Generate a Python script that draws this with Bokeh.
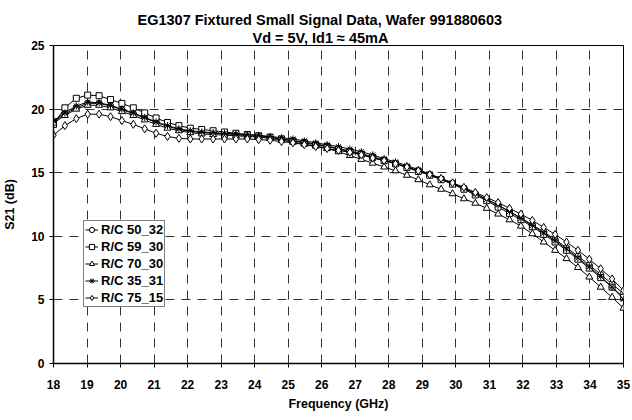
from bokeh.plotting import figure
from bokeh.models import Range1d, FixedTicker, Legend, LegendItem, Title
from bokeh.embed import file_html
from bokeh.resources import INLINE

title1 = "EG1307 Fixtured Small Signal Data, Wafer 991880603"
title2 = "Vd = 5V, Id1 \u2248 45mA"
x_label = "Frequency (GHz)"
y_label = "S21 (dB)"

freq = [18.00, 18.34, 18.68, 19.02, 19.36, 19.70, 20.04, 20.38, 20.72, 21.06,
        21.40, 21.74, 22.08, 22.42, 22.76, 23.10, 23.44, 23.78, 24.12, 24.46,
        24.80, 25.14, 25.48, 25.82, 26.16, 26.50, 26.84, 27.18, 27.52, 27.86,
        28.20, 28.54, 28.88, 29.22, 29.56, 29.90, 30.24, 30.58, 30.92, 31.26,
        31.60, 31.94, 32.28, 32.62, 32.96, 33.30, 33.64, 33.98, 34.32, 34.66, 35.00]

rc50_32 = [19.0, 19.6, 20.1, 20.45, 20.45, 20.25, 19.95, 19.65, 19.3, 18.95,
           18.65, 18.4, 18.25, 18.15, 18.1, 18.05, 18.0, 17.9, 17.85, 17.75,
           17.65, 17.5, 17.4, 17.25, 17.1, 16.9, 16.7, 16.5, 16.25, 16.0,
           15.75, 15.45, 15.15, 14.85, 14.5, 14.15, 13.75, 13.35, 12.9, 12.45,
           11.95, 11.45, 10.9, 10.35, 9.75, 9.1, 8.45, 7.75, 7.0, 6.25, 5.5]
rc59_30 = [18.8, 20.1, 20.85, 21.1, 21.05, 20.75, 20.45, 20.1, 19.7, 19.3,
           18.95, 18.7, 18.5, 18.4, 18.3, 18.2, 18.1, 18.0, 17.9, 17.8,
           17.65, 17.5, 17.35, 17.2, 17.05, 16.85, 16.65, 16.45, 16.2, 15.95,
           15.7, 15.4, 15.1, 14.8, 14.45, 14.1, 13.7, 13.25, 12.8, 12.3,
           11.8, 11.3, 10.75, 10.15, 9.55, 8.9, 8.2, 7.5, 6.75, 6.0, 5.2]
rc70_30 = [18.9, 19.5, 20.0, 20.3, 20.3, 20.1, 19.8, 19.5, 19.15, 18.8,
           18.5, 18.3, 18.15, 18.05, 18.0, 17.95, 17.9, 17.85, 17.8, 17.7,
           17.55, 17.4, 17.25, 17.1, 16.9, 16.65, 16.35, 16.05, 15.75, 15.45,
           15.15, 14.8, 14.45, 14.05, 13.7, 13.35, 12.95, 12.6, 12.2, 11.75,
           11.3, 10.8, 10.2, 9.55, 8.9, 8.25, 7.55, 6.8, 6.0, 5.2, 4.35]
rc35_31 = [19.1, 19.7, 20.25, 20.55, 20.5, 20.3, 20.0, 19.7, 19.35, 19.0,
           18.7, 18.45, 18.3, 18.2, 18.15, 18.1, 18.05, 18.0, 17.95, 17.85,
           17.75, 17.65, 17.5, 17.35, 17.2, 17.05, 16.85, 16.65, 16.4, 16.1,
           15.85, 15.55, 15.25, 14.9, 14.55, 14.2, 13.8, 13.35, 12.9, 12.45,
           11.95, 11.4, 10.85, 10.25, 9.65, 9.0, 8.3, 7.6, 6.85, 6.0, 5.05]
rc75_15 = [17.95, 18.7, 19.25, 19.6, 19.6, 19.4, 19.1, 18.8, 18.45, 18.1,
           17.85, 17.7, 17.65, 17.65, 17.65, 17.65, 17.65, 17.65, 17.6, 17.55,
           17.45, 17.35, 17.2, 17.05, 16.9, 16.75, 16.6, 16.4, 16.15, 15.95,
           15.7, 15.45, 15.15, 14.85, 14.55, 14.2, 13.85, 13.45, 13.05, 12.65,
           12.2, 11.75, 11.25, 10.7, 10.15, 9.55, 8.9, 8.2, 7.45, 6.65, 5.75]

series_names = ["R/C 50_32", "R/C 59_30", "R/C 70_30", "R/C 35_31", "R/C 75_15"]
series_values = [rc50_32, rc59_30, rc70_30, rc35_31, rc75_15]
series_markers = ["circle", "square", "triangle", "asterisk", "diamond"]
marker_sizes = [6, 6, 7, 7, 8]

x_ticks = list(range(18, 36))
y_ticks = [0, 5, 10, 15, 20, 25]

FONT = "Liberation Sans"

p = figure(width=632, height=420, output_backend="svg", toolbar_location=None,
           x_range=Range1d(18, 35), y_range=Range1d(0, 25),
           min_border_left=52, min_border_right=9, min_border_top=45,
           min_border_bottom=57)
p.background_fill_color = "white"
p.border_fill_color = "white"
p.outline_line_color = "black"
p.outline_line_width = 1

for ax in (p.xaxis[0], p.yaxis[0]):
    ax.axis_line_color = "black"
    ax.axis_line_width = 1.5
    ax.major_tick_line_color = "black"
    ax.major_tick_out = 4
    ax.major_tick_in = 0
    ax.minor_tick_line_color = None
    ax.major_label_text_font = FONT
    ax.major_label_text_font_style = "bold"
    ax.major_label_text_font_size = "12px"
    ax.major_label_text_color = "black"
    ax.axis_label_text_font = FONT
    ax.axis_label_text_font_style = "bold"
    ax.axis_label_text_font_size = "12.5px"
    ax.axis_label_text_color = "black"

p.xaxis.ticker = FixedTicker(ticks=x_ticks)
p.yaxis.ticker = FixedTicker(ticks=y_ticks)
p.xaxis.axis_label = x_label
p.yaxis.axis_label = y_label
p.xaxis.major_label_standoff = 12
p.xaxis.axis_label_standoff = 5
p.yaxis.major_label_standoff = 5
p.yaxis.axis_label_standoff = 11

p.xgrid.ticker = FixedTicker(ticks=x_ticks)
p.ygrid.ticker = FixedTicker(ticks=y_ticks)
for g in (p.xgrid[0], p.ygrid[0]):
    g.grid_line_color = "#333333"
    g.grid_line_width = 1
    g.grid_line_dash = "9 7"

items = []
for name, vals, mk, ms in zip(series_names, series_values, series_markers, marker_sizes):
    ln = p.line(freq, vals, line_color="black", line_width=1)
    sc = p.scatter(freq, vals, marker=mk, size=ms, line_color="black",
                   fill_color="white", line_width=1)
    items.append(LegendItem(label=name, renderers=[ln, sc]))

legend = Legend(items=items, location=(30, 56), orientation="vertical")
legend.border_line_color = "black"
legend.border_line_width = 1
legend.background_fill_color = "white"
legend.background_fill_alpha = 1
legend.label_text_font = FONT
legend.label_text_font_style = "bold"
legend.label_text_font_size = "13px"
legend.label_text_color = "black"
legend.glyph_width = 13
legend.glyph_height = 15
legend.label_height = 15
legend.label_standoff = 3
legend.spacing = 2
legend.padding = 1
legend.margin = 0
p.add_layout(legend, "center")

t2 = Title(text=title2, align="left", offset=199, standoff=0,
           text_font=FONT, text_font_style="bold", text_font_size="14.5px",
           text_color="black")
t1 = Title(text=title1, align="left", offset=84, standoff=0,
           text_font=FONT, text_font_style="bold", text_font_size="14.5px",
           text_color="black")
p.add_layout(t2, "above")
p.add_layout(t1, "above")

open("out.html", "w").write(file_html(p, INLINE))
